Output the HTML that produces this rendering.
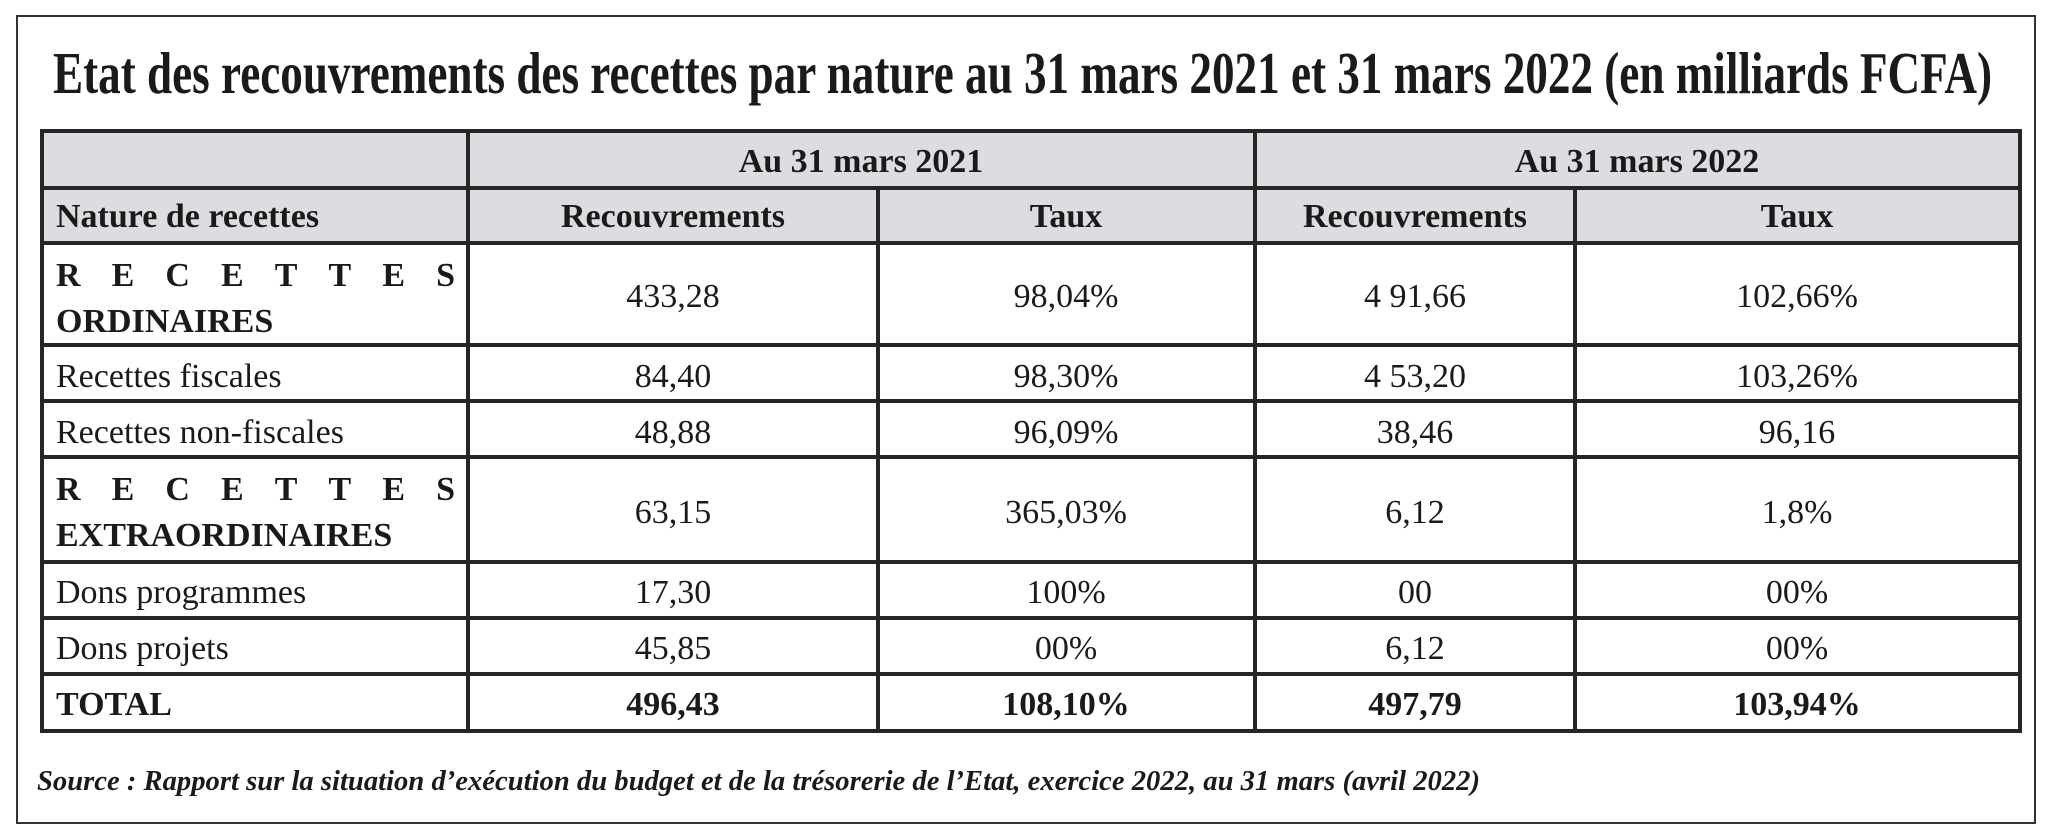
<!DOCTYPE html>
<html><head><meta charset="utf-8"><style>
html,body{margin:0;padding:0;background:#fff;}
svg{display:block;}
text{font-family:"Liberation Serif",serif;fill:#1a1a1a;}
.b{font-weight:bold;}
.c{text-anchor:middle;font-size:34px;}
</style></head><body>
<svg width="2048" height="839" viewBox="0 0 2048 839">
<rect x="17" y="16" width="2018" height="807" fill="#fff" stroke="#333" stroke-width="2"/>
<text x="53" y="93" font-size="59" class="b" textLength="1939" lengthAdjust="spacingAndGlyphs">Etat des recouvrements des recettes par nature au 31 mars 2021 et 31 mars 2022 (en milliards FCFA)</text>
<rect x="42" y="131" width="1978" height="112" fill="#dcdde0"/>
<g stroke="#262626" stroke-width="4">
<rect x="42" y="131" width="1978" height="600" fill="none"/>
<line x1="42" y1="188" x2="2020" y2="188"/>
<line x1="42" y1="243" x2="2020" y2="243"/>
<line x1="42" y1="345" x2="2020" y2="345"/>
<line x1="42" y1="401" x2="2020" y2="401"/>
<line x1="42" y1="457" x2="2020" y2="457"/>
<line x1="42" y1="562" x2="2020" y2="562"/>
<line x1="42" y1="618" x2="2020" y2="618"/>
<line x1="42" y1="674" x2="2020" y2="674"/>
<line x1="468" y1="131" x2="468" y2="731"/>
<line x1="1255" y1="131" x2="1255" y2="731"/>
<line x1="878" y1="188" x2="878" y2="731"/>
<line x1="1575" y1="188" x2="1575" y2="731"/>
</g>
<text x="861" y="172" class="c b">Au 31 mars 2021</text>
<text x="1637" y="172" class="c b">Au 31 mars 2022</text>
<text x="56" y="227" font-size="34" class="b">Nature de recettes</text>
<text x="673" y="227" class="c b">Recouvrements</text>
<text x="1066" y="227" class="c b">Taux</text>
<text x="1415" y="227" class="c b">Recouvrements</text>
<text x="1797" y="227" class="c b">Taux</text>

<g font-size="34">
<text x="56" y="286" class="b" textLength="399" lengthAdjust="spacing">RECETTES</text>
<text x="56" y="332" class="b">ORDINAIRES</text>
<text x="56" y="387">Recettes fiscales</text>
<text x="56" y="443">Recettes non-fiscales</text>
<text x="56" y="500" class="b" textLength="399" lengthAdjust="spacing">RECETTES</text>
<text x="56" y="546" class="b">EXTRAORDINAIRES</text>
<text x="56" y="603">Dons programmes</text>
<text x="56" y="659">Dons projets</text>
<text x="56" y="715" class="b">TOTAL</text>
</g>
<g>
<text x="673" y="307" class="c">433,28</text><text x="1066" y="307" class="c">98,04%</text><text x="1415" y="307" class="c">4 91,66</text><text x="1797" y="307" class="c">102,66%</text>
<text x="673" y="387" class="c">84,40</text><text x="1066" y="387" class="c">98,30%</text><text x="1415" y="387" class="c">4 53,20</text><text x="1797" y="387" class="c">103,26%</text>
<text x="673" y="443" class="c">48,88</text><text x="1066" y="443" class="c">96,09%</text><text x="1415" y="443" class="c">38,46</text><text x="1797" y="443" class="c">96,16</text>
<text x="673" y="523" class="c">63,15</text><text x="1066" y="523" class="c">365,03%</text><text x="1415" y="523" class="c">6,12</text><text x="1797" y="523" class="c">1,8%</text>
<text x="673" y="603" class="c">17,30</text><text x="1066" y="603" class="c">100%</text><text x="1415" y="603" class="c">00</text><text x="1797" y="603" class="c">00%</text>
<text x="673" y="659" class="c">45,85</text><text x="1066" y="659" class="c">00%</text><text x="1415" y="659" class="c">6,12</text><text x="1797" y="659" class="c">00%</text>
<text x="673" y="715" class="c b">496,43</text><text x="1066" y="715" class="c b">108,10%</text><text x="1415" y="715" class="c b">497,79</text><text x="1797" y="715" class="c b">103,94%</text>
</g>
<text x="37" y="790" font-size="29" class="b" font-style="italic" textLength="1443" lengthAdjust="spacingAndGlyphs">Source : Rapport sur la situation d’exécution du budget et de la trésorerie de l’Etat, exercice 2022, au 31 mars (avril 2022)</text>
</svg>
</body></html>
